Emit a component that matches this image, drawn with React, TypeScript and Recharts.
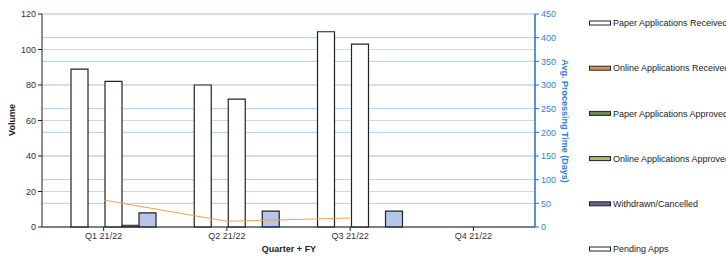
import {
  ComposedChart,
  Bar,
  Line,
  XAxis,
  YAxis,
  CartesianGrid,
} from 'recharts'

// ── Data ───────────────────────────────────────────────────────────────────────

const QUARTERS = ['Q1 21/22', 'Q2 21/22', 'Q3 21/22', 'Q4 21/22']

const PAPER_RECEIVED   = [0, 0, 0, null]
const ONLINE_RECEIVED  = [89, 80, 110, null]
const PAPER_APPROVED   = [0, 0, 0, null]
const ONLINE_APPROVED  = [82, 72, 103, null]
const WITHDRAWN        = [1, 0, 0, null]
const PENDING          = [8, 9, 9, null]
const AVG_DAYS         = [57, 12, 19, null]

const LEFT_TICKS  = [0, 20, 40, 60, 80, 100, 120]
const RIGHT_TICKS = [0, 50, 100, 150, 200, 250, 300, 350, 400, 450]

const SERIES = [
  { key: 'paperReceived',  name: 'Paper Applications Received',  values: PAPER_RECEIVED,  fill: '#ffffff', legend: '#ffffff', stroke: '#222' },
  { key: 'onlineReceived', name: 'Online Applications Received', values: ONLINE_RECEIVED, fill: '#ffffff', legend: '#e0904a', stroke: '#222' },
  { key: 'paperApproved',  name: 'Paper Applications Approved',  values: PAPER_APPROVED,  fill: '#6f8a52', legend: '#6f8a52', stroke: '#222' },
  { key: 'onlineApproved', name: 'Online Applications Approved', values: ONLINE_APPROVED, fill: '#ffffff', legend: '#a9c068', stroke: '#222' },
  { key: 'withdrawn',      name: 'Withdrawn/Cancelled',          values: WITHDRAWN,       fill: '#6e6e6e', legend: '#62668e', stroke: '#333' },
  { key: 'pending',        name: 'Pending Apps',                 values: PENDING,         fill: '#b6c6ea', legend: '#ffffff', stroke: '#222' },
]

const data = QUARTERS.map((q, i) => {
  const row: Record<string, string | number | null> = { quarter: q, avgDays: AVG_DAYS[i] }
  SERIES.forEach((s) => { row[s.key] = s.values[i] })
  return row
})

const FONT = '"Liberation Sans", Arial, sans-serif'
const BLUE = '#2f7fd4'

// ── Component ──────────────────────────────────────────────────────────────────

export default function App() {
  return (
    <div style={{ position: 'absolute', left: 0, top: 0, width: 726, height: 257, background: '#fff', fontFamily: FONT }}>
      <ComposedChart
        width={726}
        height={257}
        data={data}
        margin={{ top: 14, right: 141, bottom: 0, left: 0 }}
        barCategoryGap={12}
        barGap={0}
      >
        <CartesianGrid yAxisId="right" vertical={false} stroke="#a9d1f3" strokeWidth={1} />
        <CartesianGrid yAxisId="left" vertical={false} stroke="#d6d6d6" strokeWidth={1} />

        <XAxis
          dataKey="quarter"
          height={30}
          tick={{ fill: '#333', fontSize: 9, fontFamily: FONT }}
          tickSize={4}
          axisLine={{ stroke: '#222' }}
          tickLine={{ stroke: '#222' }}
        />
        <YAxis
          yAxisId="left"
          orientation="left"
          width={42}
          domain={[0, 120]}
          ticks={LEFT_TICKS}
          tick={{ fill: '#333', fontSize: 9, fontFamily: FONT }}
          tickSize={4}
          axisLine={{ stroke: '#222' }}
          tickLine={{ stroke: '#222' }}
        />
        <YAxis
          yAxisId="right"
          orientation="right"
          width={50}
          domain={[0, 450]}
          ticks={RIGHT_TICKS}
          tick={{ fill: BLUE, fontSize: 9, fontFamily: FONT, textAnchor: 'start' }}
          tickSize={4}
          tickMargin={2}
          axisLine={{ stroke: '#1f6fd0', strokeWidth: 1.5 }}
          tickLine={{ stroke: '#1f6fd0' }}
        />

        {SERIES.map((s) => (
          <Bar
            key={s.key}
            yAxisId="left"
            dataKey={s.key}
            name={s.name}
            fill={s.fill}
            stroke={s.stroke}
            strokeWidth={1.2}
            isAnimationActive={false}
          />
        ))}

        <Line
          yAxisId="right"
          type="linear"
          dataKey="avgDays"
          stroke="#e9a44e"
          strokeWidth={1}
          dot={false}
          activeDot={false}
          isAnimationActive={false}
        />
      </ComposedChart>

      {/* Titles + legend */}
      <svg width={726} height={257} style={{ position: 'absolute', left: 0, top: 0, pointerEvents: 'none' }}>
        <text x={12} y={120} transform="rotate(-90 12 120)" textAnchor="middle" dominantBaseline="central"
          fontSize={9} fontWeight="bold" fill="#222" fontFamily={FONT}>Volume</text>
        <text x={289} y={252} textAnchor="middle" fontSize={9} fontWeight="bold" fill="#222" fontFamily={FONT}>
          Quarter + FY
        </text>
        <text x={565} y={121} transform="rotate(90 565 121)" textAnchor="middle" dominantBaseline="central"
          fontSize={9} fontWeight="bold" fill={BLUE} fontFamily={FONT}>Avg. Processing Time (Days)</text>

        {SERIES.map((s, i) => {
          const y = 23 + i * 45.2
          return (
            <g key={s.key}>
              <rect x={589.5} y={y - 2} width={21} height={4} fill={s.legend} stroke="#222" strokeWidth={1} />
              <text x={613} y={y + 3.2} fontSize={9} fill="#222" fontFamily={FONT}>{s.name}</text>
            </g>
          )
        })}
      </svg>
    </div>
  )
}
